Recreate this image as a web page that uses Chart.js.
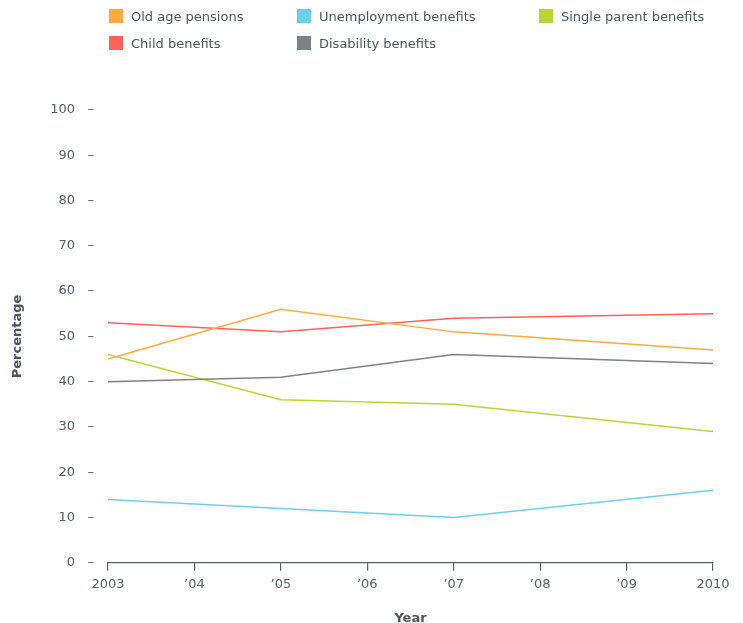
<!DOCTYPE html>
<html>
<head>
<meta charset="utf-8">
<script src="https://cdn.jsdelivr.net/npm/chart.js@4"></script>
<style>
    html, body { margin: 0; padding: 0; background: #fff; }
    body { width: 743px; height: 623px; position: relative; overflow: hidden; font-family: "DejaVu Sans", sans-serif; }
    #legend { position: absolute; left: 0; top: 0; width: 743px; height: 60px; }
    .item { position: absolute; display: flex; align-items: center; font-size: 13px; color: #4a5560; white-space: nowrap; }
    .box { width: 14px; height: 14px; margin-right: 8px; }
    #wrap { position: absolute; left: 0; top: 0; width: 743px; height: 623px; }
</style>
</head>
<body>
<div id="wrap"><canvas id="chart" width="743" height="623"></canvas></div>
<div id="legend"></div>
<script>
// data
const years = [2003, 2005, 2007, 2010];
const xTickLabels = ["2003", "\u201904", "\u201905", "\u201906", "\u201907", "\u201908", "\u201909", "2010"];
const seriesNames = ["Old age pensions", "Child benefits", "Unemployment benefits", "Disability benefits", "Single parent benefits"];
const oldAgePensions = [45, 56, 51, 47];
const childBenefits = [53, 51, 54, 55];
const unemploymentBenefits = [14, 12, 10, 16];
const disabilityBenefits = [40, 41, 46, 44];
const singleParentBenefits = [46, 36, 35, 29];
const seriesColors = ["#ffab3a", "#ff6358", "#6bcff0", "#7c8386", "#bad532"];

const seriesValues = [oldAgePensions, childBenefits, unemploymentBenefits, disabilityBenefits, singleParentBenefits];
const textColor = "#555f67";
const fontFamily = "DejaVu Sans";

// legend laid out in three columns like the original
const legendSpots = [[109, 16], [109, 43], [297, 16], [297, 43], [539, 16]];
const legendEl = document.getElementById("legend");
seriesNames.forEach(function (name, i) {
    const item = document.createElement("div");
    item.className = "item";
    item.style.left = legendSpots[i][0] + "px";
    item.style.top = (legendSpots[i][1] - 10) + "px";
    item.style.height = "20px";
    item.innerHTML = '<span class="box" style="background:' + seriesColors[i] + '"></span>' + name;
    legendEl.appendChild(item);
});

const datasets = seriesNames.map(function (name, i) {
    return {
        label: name,
        data: years.map(function (y, j) { return { x: y, y: seriesValues[i][j] }; }),
        borderColor: seriesColors[i],
        backgroundColor: seriesColors[i],
        borderWidth: 1.5,
        pointRadius: 0,
        tension: 0,
        fill: false,
    };
});

const ctx = document.getElementById("chart").getContext("2d");
new Chart(ctx, {
    type: "line",
    data: { datasets: datasets },
    options: {
        responsive: false,
        animation: false,
        layout: { padding: { top: 110, right: 30, left: 10, bottom: -3 } },
        plugins: {
            legend: { display: false },
            tooltip: { enabled: false },
        },
        scales: {
            x: {
                type: "linear",
                min: 2003,
                max: 2010,
                ticks: {
                    stepSize: 1,
                    color: textColor,
                    font: { family: fontFamily, size: 13 },
                    padding: 6,
                    maxRotation: 0,
                    callback: function (value) {
                        return xTickLabels[value - 2003];
                    },
                },
                grid: {
                    drawOnChartArea: false,
                    drawTicks: true,
                    tickLength: 8,
                    color: textColor,
                    lineWidth: 1.2,
                },
                border: { display: true, color: textColor, width: 1.2 },
                title: {
                    display: true,
                    text: "Year",
                    color: "#4a5560",
                    font: { family: fontFamily, size: 13, weight: "bold" },
                    padding: { top: 12, bottom: 0 },
                },
            },
            y: {
                min: 0,
                max: 100,
                afterFit: function (scale) { scale.width = 98; },
                ticks: {
                    stepSize: 10,
                    color: textColor,
                    font: { family: fontFamily, size: 13 },
                    padding: 6,
                    callback: function (value) { return value + "   \u2013"; },
                },
                grid: { display: false },
                border: { display: false },
                title: {
                    display: true,
                    text: "Percentage",
                    color: "#4a5560",
                    font: { family: fontFamily, size: 13, weight: "bold" },
                    padding: 0,
                },
            },
        },
    },
});
</script>
</body>
</html>
